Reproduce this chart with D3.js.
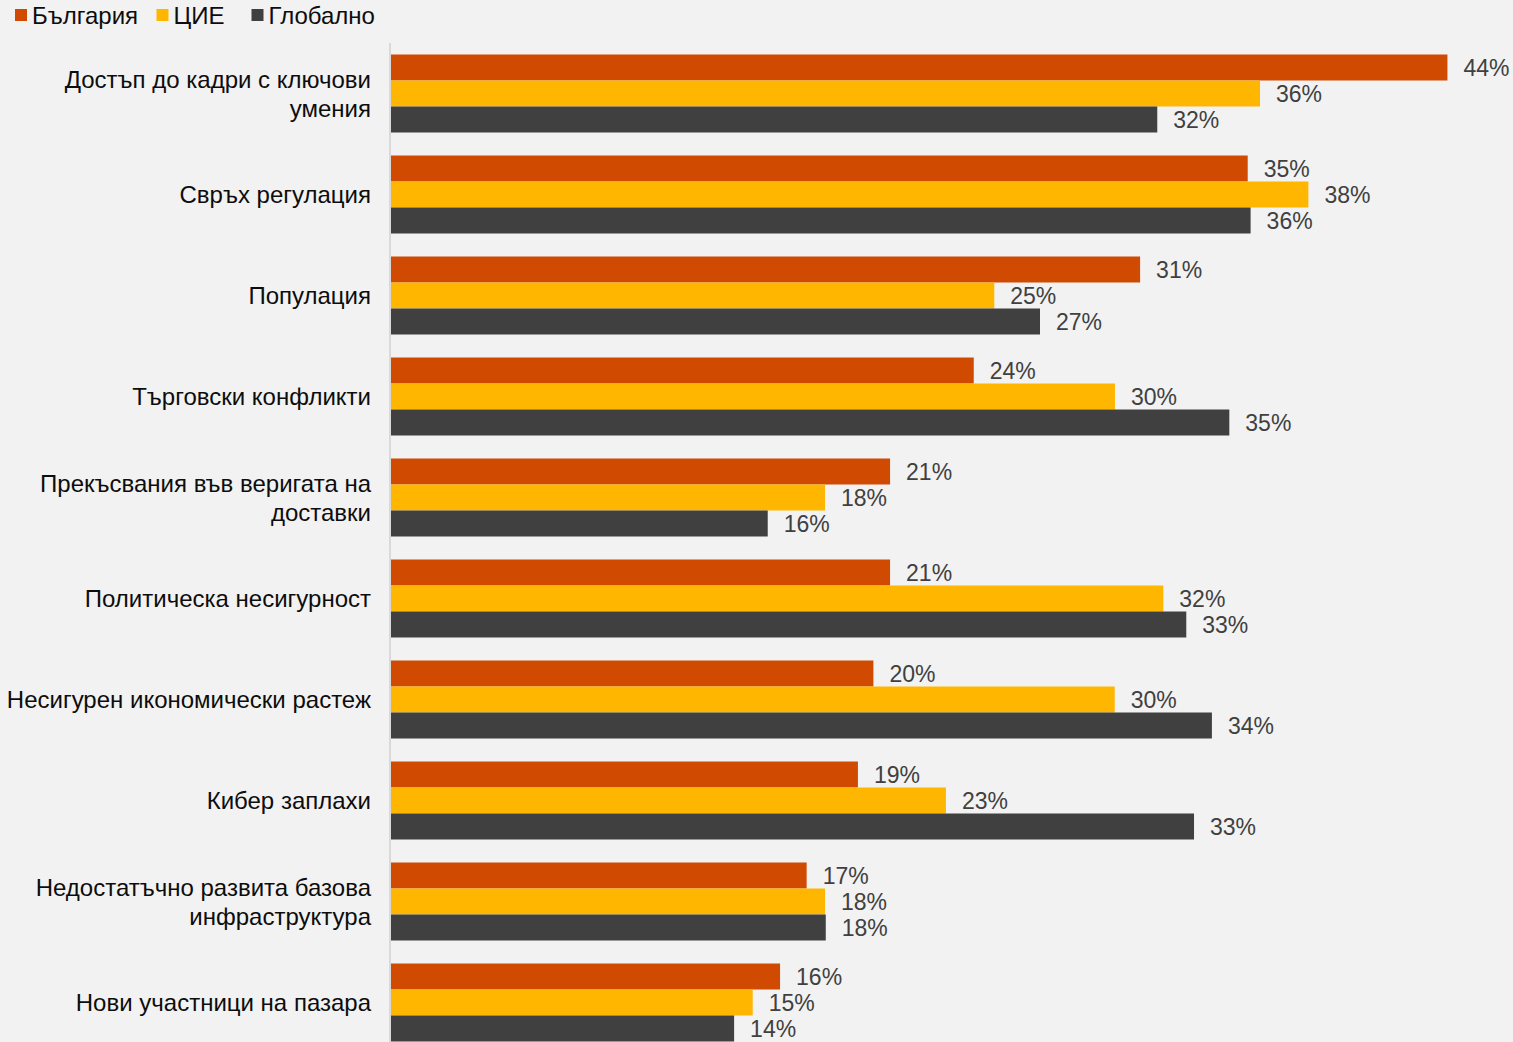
<!DOCTYPE html>
<html>
<head>
<meta charset="utf-8">
<script src="https://cdn.jsdelivr.net/npm/d3@7"></script>
<style>
  html, body { margin: 0; padding: 0; background: #f2f2f2; }
  svg { display: block; font-family: "Liberation Sans", Arial, sans-serif; }
</style>
</head>
<body>
<div id="chart"></div>
<script>
// categories (line breaks marked with \n)
const categories = [
    "Достъп до кадри с ключови\nумения",
    "Свръх регулация",
    "Популация",
    "Търговски конфликти",
    "Прекъсвания във веригата на\nдоставки",
    "Политическа несигурност",
    "Несигурен икономически растеж",
    "Кибер заплахи",
    "Недостатъчно развита базова\nинфраструктура",
    "Нови участници на пазара"
];

const seriesNames = ["България", "ЦИЕ", "Глобално"];
const seriesColors = ["#d04a02", "#ffb600", "#404041"];

// percentages
const bulgaria = [43.69, 35.43, 30.98, 24.10, 20.64, 20.64, 19.95, 19.31, 17.19, 16.09];
const cee      = [35.94, 37.94, 24.95, 29.94, 17.95, 31.94, 29.93, 22.95, 17.95, 14.96];
const globalV  = [31.69, 35.55, 26.84, 34.67, 15.58, 32.89, 33.95, 33.21, 17.98, 14.19];

const width = 1513, height = 1042;
const x0 = 391, axisX = 390;
const pxPerPct = 24.18;

const rows = categories.map((c, i) => ({
    cat: c,
    vals: [bulgaria[i], cee[i], globalV[i]]
}));

const svg = d3.select("#chart").append("svg")
    .attr("width", width)
    .attr("height", height)
    .style("background-color", "#f2f2f2");

const x = d3.scaleLinear().domain([0, 44]).range([x0, x0 + pxPerPct * 44]);

const pad = 23 / 101;
const y = d3.scaleBand().domain(categories)
    .range([43, 1053])
    .paddingInner(pad).paddingOuter(pad / 2);

const ySub = d3.scaleBand().domain(seriesNames).range([0, y.bandwidth()]);

// bars
const groups = svg.append("g").attr("class", "groups")
    .selectAll("g").data(rows).join("g")
    .attr("transform", d => `translate(0,${y(d.cat)})`);

groups.selectAll("rect")
    .data(d => d.vals.map((v, k) => ({ v, k })))
    .join("rect")
    .attr("x", x(0))
    .attr("y", d => ySub(seriesNames[d.k]))
    .attr("width", d => x(d.v) - x(0))
    .attr("height", ySub.bandwidth())
    .attr("fill", d => seriesColors[d.k]);

groups.selectAll("text.val")
    .data(d => d.vals.map((v, k) => ({ v, k })))
    .join("text").attr("class", "val")
    .attr("x", d => x(d.v) + 16)
    .attr("y", d => ySub(seriesNames[d.k]) + ySub.bandwidth() / 2)
    .attr("dy", "0.36em")
    .attr("font-size", 23)
    .attr("fill", "#404040")
    .text(d => Math.round(d.v) + "%");

// axis line
svg.append("line")
    .attr("x1", axisX).attr("x2", axisX)
    .attr("y1", 43).attr("y2", height)
    .attr("stroke", "#d9d9d9").attr("stroke-width", 2);

// category labels
const catLabels = svg.append("g").attr("class", "cats")
    .selectAll("text").data(categories).join("text")
    .attr("text-anchor", "end")
    .attr("font-size", 24)
    .attr("fill", "#0d0d0d")
    .attr("transform", d => `translate(371,${y(d) + y.bandwidth() / 2})`);

catLabels.each(function(d) {
    const lines = d.split("\n");
    const lh = 29;
    const t = d3.select(this);
    lines.forEach((ln, i) => {
        t.append("tspan")
            .attr("x", 0)
            .attr("y", (i - (lines.length - 1) / 2) * lh)
            .attr("dy", "0.36em")
            .text(ln);
    });
});

// legend
const legendX = [15, 156.5, 251.5];
const legend = svg.append("g").attr("class", "legend")
    .selectAll("g").data(seriesNames).join("g")
    .attr("transform", (d, i) => `translate(${legendX[i]},0)`);

legend.append("rect")
    .attr("x", 0).attr("y", 9)
    .attr("width", 12).attr("height", 12)
    .attr("fill", (d, i) => seriesColors[i]);

legend.append("text")
    .attr("x", 17).attr("y", 15)
    .attr("dy", "0.36em")
    .attr("font-size", 24)
    .attr("fill", "#0d0d0d")
    .text(d => d);
</script>
</body>
</html>
